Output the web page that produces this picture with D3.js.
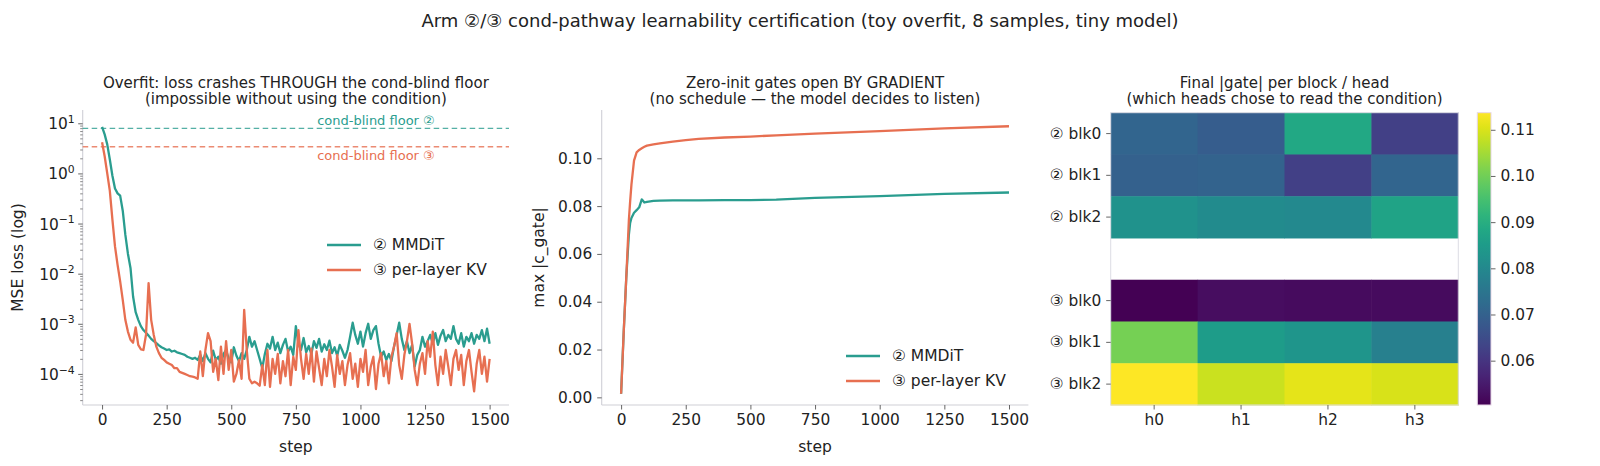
<!DOCTYPE html>
<html><head><meta charset="utf-8">
<script src="https://cdn.jsdelivr.net/npm/d3@7"></script>
<style>
body{margin:0;background:#fff}
text{font-family:"DejaVu Sans",sans-serif;fill:#222}
</style>
</head><body>
<svg id="c" width="1600" height="466"></svg>
<script>
// ---------------- DATA ----------------
const seriesNames = ["② MMDiT", "③ per-layer KV"];
const lossStepEvery = 10; // loss sampled every 10 steps, 0..1500
const mmditLoss = [
  8.5, 6.0, 3.8, 1.9, 0.9, 0.5, 0.40, 0.36, 0.18, 0.06,
  0.025, 0.013, 0.0035, 0.0017, 0.0012, 9.0e-4, 7.5e-4, 6.6e-4, 5.8e-4, 5.0e-4,
  4.5e-4, 4.1e-4, 3.7e-4, 3.4e-4, 3.2e-4, 3.0e-4, 3.1e-4, 2.8e-4, 2.9e-4, 2.7e-4,
  2.6e-4, 2.5e-4, 2.4e-4, 2.2e-4, 2.1e-4, 2.0e-4, 2.1e-4, 1.9e-4,
  2.4e-4, 1.8e-4, 2.6e-4, 2.0e-4, 1.7e-4, 2.9e-4, 1.9e-4, 2.2e-4, 1.6e-4, 2.5e-4,
  3.0e-4, 2.0e-4, 1.7e-4, 3.4e-4, 2.3e-4, 1.8e-4, 2.6e-4, 2.0e-4, 3.0e-4, 5.5e-4,
  3.5e-4, 4.5e-4, 3.0e-4, 2.0e-4, 1.3e-4, 2.5e-4, 4.0e-4, 3.2e-4, 5.5e-4, 3.0e-4,
  4.2e-4, 2.6e-4, 3.8e-4, 5.0e-4, 2.8e-4, 3.5e-4, 2.4e-4, 9.0e-4, 4.0e-4, 3.0e-4,
  5.2e-4, 2.7e-4, 3.6e-4, 2.5e-4, 4.5e-4, 3.3e-4, 5.0e-4, 2.8e-4, 3.9e-4, 3.0e-4,
  4.6e-4, 2.6e-4, 3.4e-4, 2.3e-4, 3.8e-4, 2.9e-4, 2.1e-4, 3.0e-4, 5.5e-4, 1.05e-3,
  6.0e-4, 4.0e-4, 7.0e-4, 3.5e-4, 6.5e-4, 1.0e-3, 5.0e-4, 7.5e-4, 9.0e-4, 4.0e-4,
  2.2e-4, 2.8e-4, 1.9e-4, 2.5e-4, 1.8e-4, 3.5e-4, 6.0e-4, 1.05e-3, 5.0e-4, 3.0e-4,
  4.5e-4, 2.6e-4, 3.8e-4, 1.4e-4, 2.4e-4, 3.0e-4, 5.5e-4, 3.5e-4, 4.5e-4, 6.0e-4,
  4.0e-4, 6.5e-4, 3.8e-4, 5.8e-4, 7.5e-4, 4.5e-4, 6.0e-4, 5.0e-4, 9.0e-4, 5.0e-4,
  4.0e-4, 6.5e-4, 3.5e-4, 5.5e-4, 4.5e-4, 6.5e-4, 4.0e-4, 6.0e-4, 5.0e-4, 7.5e-4,
  4.5e-4, 8.0e-4, 4.0e-4
];
const kvLoss = [
  4.2, 2.2, 1.0, 0.45, 0.12, 0.035, 0.015, 0.007, 0.003, 0.0012,
  7.0e-4, 4.8e-4, 4.2e-4, 8.5e-4, 3.8e-4, 3.1e-4, 3.0e-4, 6.0e-4, 6.5e-3, 1.2e-3,
  6.0e-4, 3.5e-4, 2.6e-4, 2.1e-4, 1.9e-4, 1.7e-4, 1.6e-4, 1.5e-4, 1.3e-4, 1.3e-4,
  1.1e-4, 1.05e-4, 1.0e-4, 9.5e-5, 9.0e-5, 8.8e-5, 8.5e-5, 8.0e-5,
  2.8e-4, 9e-5, 3.0e-4, 6.5e-4, 4.5e-4, 1.1e-4, 2.0e-4, 7.5e-5, 3.5e-4, 1.0e-4,
  4.5e-4, 1.2e-4, 3.0e-4, 7e-5, 1.0e-4, 1.9e-4, 8e-5, 1.9e-3, 3.0e-4, 8e-5,
  6.5e-5, 7e-5, 6.5e-5, 5.8e-5, 1.5e-4, 6.0e-5, 3.0e-4, 5.5e-5, 2.0e-4, 1.0e-4,
  2.5e-4, 6.5e-5, 1.8e-4, 9e-5, 3.0e-4, 6e-5, 2.2e-4, 1.2e-4, 7.5e-4, 2.0e-4,
  8e-5, 2.5e-4, 1.0e-4, 3.2e-4, 7e-5, 2.8e-4, 1.3e-4, 6e-5, 2.0e-4, 9e-5,
  3.0e-4, 1.4e-4, 5.5e-5, 2.4e-4, 1.0e-4, 1.8e-4, 6e-5, 1.5e-4, 2.6e-4, 8e-5,
  1.6e-4, 5.5e-5, 2.0e-4, 1.1e-4, 3.0e-4, 6e-5, 1.4e-4, 2.2e-4, 5e-5, 1.6e-4,
  2.6e-4, 9e-5, 1.8e-4, 6.5e-5, 2.2e-4, 3.5e-4, 6.5e-4, 1.5e-4, 8e-5, 2.4e-4,
  4.5e-4, 1.0e-3, 4.0e-4, 1.2e-4, 6e-5, 1.6e-4, 2.6e-4, 1.0e-4, 4.5e-4, 2.2e-4,
  7.0e-4, 1.5e-4, 6e-5, 2.2e-4, 1.0e-4, 3.0e-4, 1.4e-4, 6e-5, 2.0e-4, 3.0e-4,
  1.2e-4, 2.4e-4, 6e-5, 1.8e-4, 3.0e-4, 1.1e-4, 4.5e-5, 1.6e-4, 3.0e-4, 1.0e-4,
  2.2e-4, 7e-5, 2.0e-4
];
const floorMMDiT = 7.9;
const floorKV = 3.4;
const floorLabels = ["cond-blind floor ②", "cond-blind floor ③"];

const gateSteps = [0,10,20,30,35,40,50,60,70,80,85,90,100,125,150,200,250,300,400,500,600,750,1000,1250,1500];
const mmditGate = [0.0015,0.027,0.050,0.068,0.073,0.075,0.0772,0.0783,0.0795,0.0828,0.0822,0.0815,0.0818,0.0822,0.0823,0.0824,0.0824,0.0824,0.0825,0.0825,0.0827,0.0834,0.0842,0.0851,0.0857];
const kvGate    = [0.0015,0.027,0.050,0.074,0.082,0.089,0.099,0.1025,0.1035,0.1042,0.1045,0.1048,0.1053,0.1058,0.1062,0.1070,0.1076,0.1081,0.1087,0.1091,0.1096,0.1103,0.1114,0.1125,0.1134];

const stepTicks = [0,250,500,750,1000,1250,1500];
const gateTicks = [0,0.02,0.04,0.06,0.08,0.10];
const logTickExps = [-4,-3,-2,-1,0,1];

const heatRows = ["② blk0","② blk1","② blk2","","③ blk0","③ blk1","③ blk2"];
const heatCols = ["h0","h1","h2","h3"];
const heatValues = [
  [0.0707,0.0688,0.0884,0.0624],
  [0.0698,0.0702,0.0625,0.0707],
  [0.0827,0.0808,0.0801,0.0871],
  null,
  [0.0504,0.0526,0.0523,0.0523],
  [0.1004,0.0852,0.0833,0.0776],
  [0.1137,0.1086,0.1112,0.1099]
];
const cbarTicks = [0.06,0.07,0.08,0.09,0.10,0.11];

const suptitle = "Arm ②/③ cond-pathway learnability certification (toy overfit, 8 samples, tiny model)";
const titles = [
  ["Overfit: loss crashes THROUGH the cond-blind floor","(impossible without using the condition)"],
  ["Zero-init gates open BY GRADIENT","(no schedule — the model decides to listen)"],
  ["Final |gate| per block / head","(which heads chose to read the condition)"]
];

// ---------------- DRAW ----------------
const C2 = "#2a9d8f", C3 = "#e76f51";
const SPINE = "#cfcfd6", TICK = "#555";
const FS = 15.4, TFS = 15;
const svg = d3.select("#c");

svg.append("text").attr("x",800).attr("y",20).attr("text-anchor","middle")
  .attr("dominant-baseline","central").style("font-size","18px").text(suptitle);

function subTitle(cx, lines){
  lines.forEach((t,i)=>svg.append("text").attr("x",cx).attr("y",82.5+i*16.8)
    .attr("text-anchor","middle").attr("dominant-baseline","central")
    .style("font-size",TFS+"px").text(t));
}
function spines(x0,x1,y0,y1){
  svg.append("line").attr("x1",x0).attr("x2",x0).attr("y1",y0).attr("y2",y1).attr("stroke",SPINE).attr("stroke-width",1.1);
  svg.append("line").attr("x1",x0).attr("x2",x1).attr("y1",y1).attr("y2",y1).attr("stroke",SPINE).attr("stroke-width",1.1);
}
function styleAxis(g){
  g.select(".domain").remove();
  g.selectAll(".tick line").attr("stroke",TICK).attr("stroke-width",0.9);
  g.selectAll(".tick text").style("font-size",FS+"px").attr("fill","#222").style("font-family","DejaVu Sans");
}
function legend(x, y, gap){
  [C2,C3].forEach((c,i)=>{
    svg.append("line").attr("x1",x).attr("x2",x+34).attr("y1",y+i*gap).attr("y2",y+i*gap)
      .attr("stroke",c).attr("stroke-width",2.6);
    svg.append("text").attr("x",x+46).attr("y",y+i*gap).attr("dominant-baseline","central")
      .style("font-size","15.5px").text(seriesNames[i]);
  });
}

// ----- Panel 1: loss (log) -----
{
  const x0=82.7,x1=509,y0=110,y1=405;
  const x = d3.scaleLinear().domain([-75,1575]).range([x0,x1]);
  const y = d3.scaleLog().domain([Math.pow(10,-4.62),Math.pow(10,1.265)]).range([y1,y0]);
  subTitle((x0+x1)/2, titles[0]);
  spines(x0,x1,y0,y1);
  const gx = svg.append("g").attr("transform",`translate(0,${y1})`)
    .call(d3.axisBottom(x).tickValues(stepTicks).tickSize(4.5).tickPadding(5).tickFormat(d3.format("d")));
  styleAxis(gx);
  const gy = svg.append("g").attr("transform",`translate(${x0},0)`)
    .call(d3.axisLeft(y).tickValues(logTickExps.map(e=>Math.pow(10,e))).tickSize(4.5).tickFormat(""));
  styleAxis(gy);
  logTickExps.forEach(e=>{
    const t = svg.append("text").attr("x",x0-8).attr("y",y(Math.pow(10,e))+1).attr("text-anchor","end")
      .attr("dominant-baseline","central").style("font-size",FS+"px");
    t.append("tspan").text("10");
    t.append("tspan").attr("dy","-0.5em").style("font-size","10.8px").text(e<0?"\u2212"+(-e):String(e));
  });
  const dom = y.domain(); const minors=[];
  for(let e=-5;e<=1;e++) for(let m=2;m<=9;m++){const v=m*Math.pow(10,e); if(v>=dom[0]&&v<=dom[1]) minors.push(v);}
  const gm = svg.append("g").attr("transform",`translate(${x0},0)`)
    .call(d3.axisLeft(y).tickValues(minors).tickSize(2.5).tickFormat(""));
  gm.select(".domain").remove();
  gm.selectAll(".tick line").attr("stroke",TICK).attr("stroke-width",0.7);

  [[floorMMDiT,C2],[floorKV,C3]].forEach(([v,c])=>{
    svg.append("line").attr("x1",x0).attr("x2",x1).attr("y1",y(v)).attr("y2",y(v))
      .attr("stroke",c).attr("stroke-width",1.3).attr("stroke-dasharray","5.5,3.5").attr("opacity",0.8);
  });
  svg.append("text").attr("x",x(1060)).attr("y",y(floorMMDiT)-3).attr("text-anchor","middle")
    .style("font-size","13px").style("fill",C2).text(floorLabels[0]);
  svg.append("text").attr("x",x(1060)).attr("y",y(floorKV)+4).attr("text-anchor","middle")
    .attr("dominant-baseline","hanging").style("font-size","13px").style("fill",C3).text(floorLabels[1]);

  const line = d3.line().x((d,i)=>x(i*lossStepEvery)).y(d=>y(d));
  svg.append("path").datum(mmditLoss).attr("d",line).attr("fill","none").attr("stroke",C2).attr("stroke-width",2.3).attr("stroke-linejoin","round");
  svg.append("path").datum(kvLoss).attr("d",line).attr("fill","none").attr("stroke",C3).attr("stroke-width",2.3).attr("stroke-linejoin","round");

  svg.append("text").attr("transform",`translate(18,${(y0+y1)/2}) rotate(-90)`).attr("text-anchor","middle")
    .attr("dominant-baseline","central").style("font-size","15.5px").text("MSE loss (log)");
  svg.append("text").attr("x",x(750)).attr("y",447).attr("text-anchor","middle")
    .attr("dominant-baseline","central").style("font-size","15.5px").text("step");
  legend(327,245,25);
}

// ----- Panel 2: gates -----
{
  const x0=601.7,x1=1028.4,y0=110,y1=405;
  const x = d3.scaleLinear().domain([-75,1575]).range([x0,x1]);
  const y = d3.scaleLinear().domain([-0.0032,0.1202]).range([y1,y0]);
  subTitle((x0+x1)/2, titles[1]);
  spines(x0,x1,y0,y1);
  const gx = svg.append("g").attr("transform",`translate(0,${y1})`)
    .call(d3.axisBottom(x).tickValues(stepTicks).tickSize(4.5).tickPadding(5).tickFormat(d3.format("d")));
  styleAxis(gx);
  const gy = svg.append("g").attr("transform",`translate(${x0},0)`)
    .call(d3.axisLeft(y).tickValues(gateTicks).tickSize(4.5).tickPadding(5).tickFormat(d3.format(".2f")));
  styleAxis(gy);
  const line = d3.line().x((d,i)=>x(gateSteps[i])).y(d=>y(d));
  svg.append("path").datum(mmditGate).attr("d",line).attr("fill","none").attr("stroke",C2).attr("stroke-width",2.3).attr("stroke-linejoin","round");
  svg.append("path").datum(kvGate).attr("d",line).attr("fill","none").attr("stroke",C3).attr("stroke-width",2.3).attr("stroke-linejoin","round");
  svg.append("text").attr("transform",`translate(539,${(y0+y1)/2}) rotate(-90)`).attr("text-anchor","middle")
    .attr("dominant-baseline","central").style("font-size","15.5px").text("max |c_gate|");
  svg.append("text").attr("x",x(750)).attr("y",447).attr("text-anchor","middle")
    .attr("dominant-baseline","central").style("font-size","15.5px").text("step");
  legend(846,356,25);
}

// ----- Panel 3: heatmap -----
{
  const x0=1110.7,x1=1458.3,y0=112.7,y1=405;
  const xb = d3.scaleBand().domain(heatCols).range([x0,x1]);
  const yb = d3.scaleBand().domain(d3.range(heatRows.length)).range([y0,y1]);
  const flat = heatValues.filter(r=>r).flat();
  const vmin = d3.min(flat), vmax = d3.max(flat);
  const color = d3.scaleSequential(d3.interpolateViridis).domain([vmin,vmax]);
  subTitle((x0+x1)/2, titles[2]);
  heatValues.forEach((row,ri)=>{
    if(!row) return;
    row.forEach((v,ci)=>{
      svg.append("rect").attr("x",xb(heatCols[ci])).attr("y",yb(ri))
        .attr("width",xb.bandwidth()+0.5).attr("height",yb.bandwidth()+0.5).attr("fill",color(v));
    });
  });
  svg.append("rect").attr("x",x0).attr("y",y0).attr("width",x1-x0).attr("height",y1-y0)
    .attr("fill","none").attr("stroke","#dcdce4").attr("stroke-width",1);
  const gx = svg.append("g").attr("transform",`translate(0,${y1})`)
    .call(d3.axisBottom(xb).tickSize(4.5).tickPadding(5));
  styleAxis(gx);
  const rowIdx = d3.range(heatRows.length).filter(i=>heatRows[i]!=="");
  const gy = svg.append("g").attr("transform",`translate(${x0},0)`)
    .call(d3.axisLeft(yb).tickValues(rowIdx).tickSize(4.5).tickPadding(5).tickFormat(i=>heatRows[i]));
  styleAxis(gy);

  const cx0=1477.3, cw=13.7;
  const cy = d3.scaleLinear().domain([vmin,vmax]).range([y1,y0]);
  const grad = svg.append("defs").append("linearGradient").attr("id","vir")
    .attr("x1",0).attr("y1",1).attr("x2",0).attr("y2",0);
  d3.range(0,1.0001,0.05).forEach(t=>grad.append("stop").attr("offset",t).attr("stop-color",d3.interpolateViridis(t)));
  svg.append("rect").attr("x",cx0).attr("y",y0).attr("width",cw).attr("height",y1-y0)
    .attr("fill","url(#vir)").attr("stroke","#e6d6e6").attr("stroke-width",1);
  const gc = svg.append("g").attr("transform",`translate(${cx0+cw},0)`)
    .call(d3.axisRight(cy).tickValues(cbarTicks).tickSize(4.5).tickPadding(5).tickFormat(d3.format(".2f")));
  styleAxis(gc);
}
</script>
</body></html>
